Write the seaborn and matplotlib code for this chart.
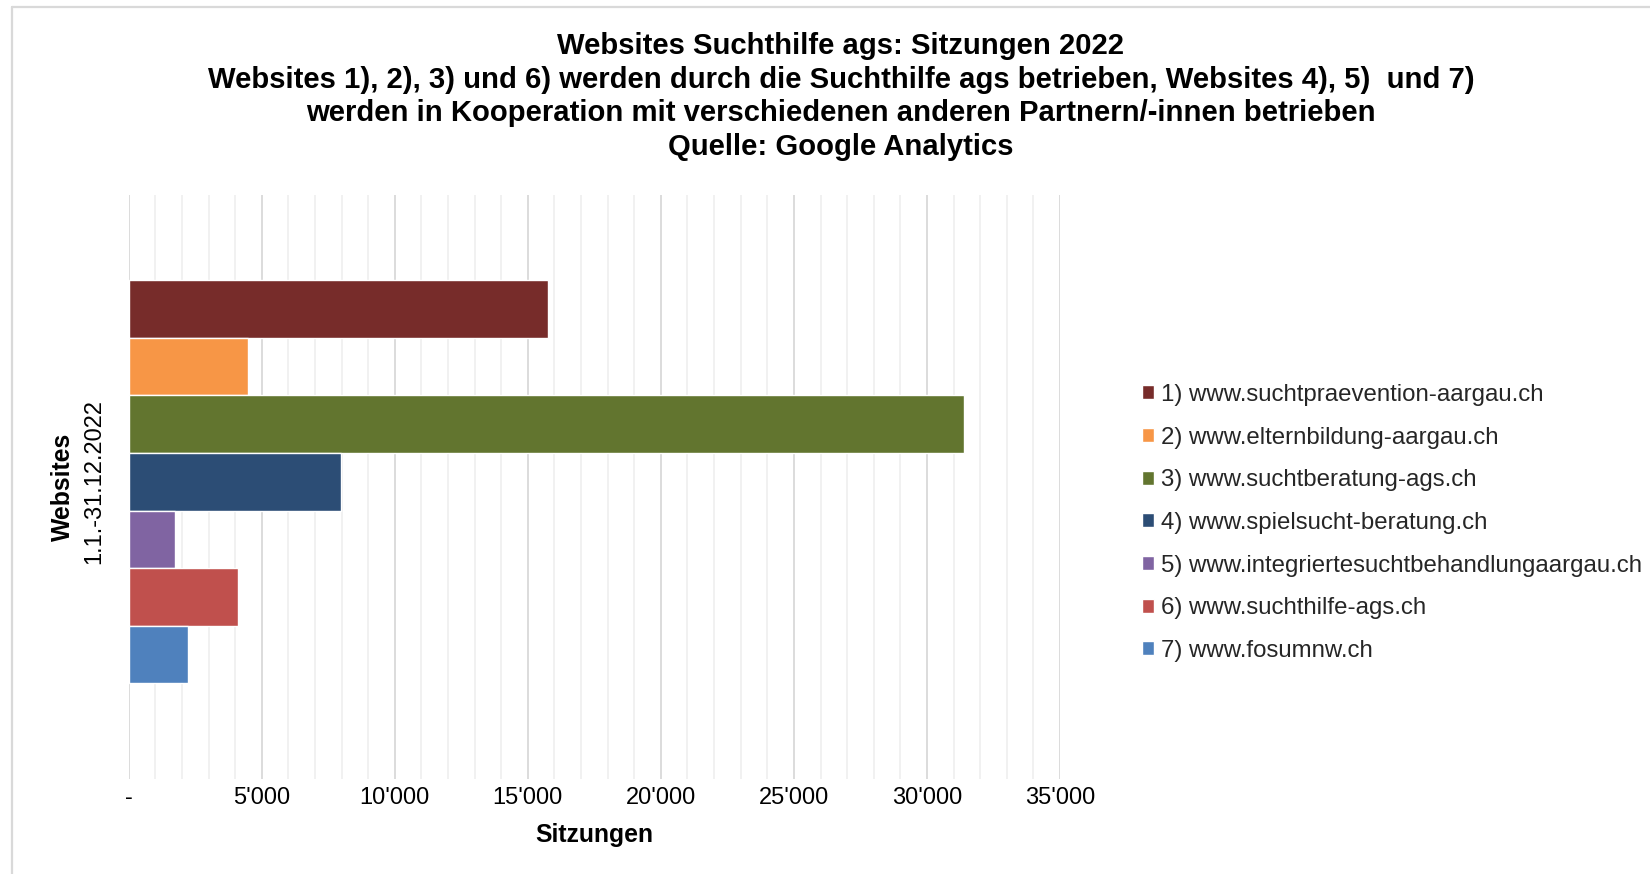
import matplotlib
matplotlib.use("Agg")
import matplotlib.pyplot as plt
import seaborn as sns
import pandas as pd
from matplotlib.ticker import FixedLocator, MultipleLocator, FixedFormatter
from matplotlib.lines import Line2D

# ---- data ----
period = "1.1.-31.12.2022"
sites = [
    "1) www.suchtpraevention-aargau.ch",
    "2) www.elternbildung-aargau.ch",
    "3) www.suchtberatung-ags.ch",
    "4) www.spielsucht-beratung.ch",
    "5) www.integriertesuchtbehandlungaargau.ch",
    "6) www.suchthilfe-ags.ch",
    "7) www.fosumnw.ch",
]
sessions = [15750, 4470, 31410, 7990, 1740, 4100, 2220]
colors = ["#772C2A", "#F79646", "#62752F", "#2C4D75", "#8064A2", "#C0504D", "#4F81BD"]
x_ticks = [0, 5000, 10000, 15000, 20000, 25000, 30000, 35000]
x_tick_labels = ["-", "5'000", "10'000", "15'000", "20'000", "25'000", "30'000", "35'000"]
title_lines = [
    "Websites Suchthilfe ags: Sitzungen 2022",
    "Websites 1), 2), 3) und 6) werden durch die Suchthilfe ags betrieben, Websites 4), 5)  und 7)",
    "werden in Kooperation mit verschiedenen anderen Partnern/-innen betrieben",
    "Quelle: Google Analytics",
]

sns.set_theme(style="white")
plt.rcParams["font.family"] = ["Liberation Sans", "DejaVu Sans"]

W, H = 1650, 874
fig = plt.figure(figsize=(W / 100, H / 100), dpi=100)
ax_l, ax_r, ax_t, ax_b = 128.7, 1060, 195, 779
ax = fig.add_axes([ax_l / W, 1 - ax_b / H, (ax_r - ax_l) / W, (ax_b - ax_t) / H])

df = pd.DataFrame({"Zeitraum": [period] * len(sites), "Website": sites, "Sitzungen": sessions})
sns.barplot(data=df, x="Sitzungen", y="Zeitraum", hue="Website", hue_order=sites,
            palette=colors, orient="h", width=0.69, dodge=True, saturation=1,
            ax=ax, legend=True)

ax.set_xlim(0, 35000)
ax.set_ylim(0.509, -0.491)

# grid
ax.xaxis.set_major_locator(FixedLocator(x_ticks))
ax.xaxis.set_major_formatter(FixedFormatter(x_tick_labels))
ax.xaxis.set_minor_locator(MultipleLocator(1000))
ax.grid(axis="x", which="minor", color="#F0F0F0", linewidth=1.3, zorder=0)
ax.grid(axis="x", which="major", color="#D9D9D9", linewidth=1.3, zorder=0)
ax.grid(axis="y", visible=False)
ax.set_axisbelow(True)
for s in ax.spines.values():
    s.set_visible(False)

fs = 17
ax.tick_params(axis="x", which="both", length=0, pad=6, labelsize=fs, labelcolor="#000000")
ax.tick_params(axis="y", length=0, pad=17, labelsize=fs, labelcolor="#000000")
for lab in ax.get_yticklabels():
    lab.set_rotation(90)
    lab.set_va("center")

ax.set_xlabel("Sitzungen", fontsize=17.8, fontweight="bold", color="#000000")
ax.xaxis.set_label_coords(0.5, -0.075)
ax.set_ylabel("Websites", fontsize=17.8, fontweight="bold", color="#000000")
ax.yaxis.set_label_coords(-0.0575, 0.5)

# legend
handles, labels = ax.get_legend_handles_labels()
ax.legend_.remove()
fig.legend(handles, labels, loc="center left", bbox_to_anchor=(1142 / W, 1 - 523 / H),
           frameon=False, fontsize=17.3, handlelength=0.52, handleheight=0.52,
           handletextpad=0.25, labelspacing=0.86, borderpad=0, borderaxespad=0)

# title
for y, line in zip([46.3, 80, 112.6, 147.3], title_lines):
    fig.text(841 / W, 1 - y / H, line, ha="center", va="center", fontsize=21.1,
             fontweight="bold", color="#000000")

# chart border (top and left edges only visible)
fig.lines.append(Line2D([12 / W, 1.0], [1 - 7 / H, 1 - 7 / H], transform=fig.transFigure,
                        color="#D9D9D9", linewidth=1.6))
fig.lines.append(Line2D([12 / W, 12 / W], [1 - 7 / H, 0.0], transform=fig.transFigure,
                        color="#D9D9D9", linewidth=1.6))

fig.savefig("out.png", dpi=100)
